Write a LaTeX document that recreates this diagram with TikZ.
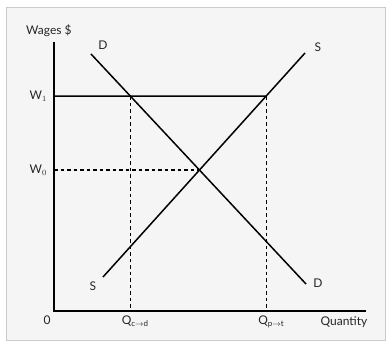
\documentclass[tikz,border=0pt]{standalone}
\usepackage{fontspec}
\setmainfont{Lato}
\usetikzlibrary{positioning,calc}

\begin{document}
\begin{tikzpicture}[x=1pt, y=-1pt, font=\fontsize{12}{14}\selectfont,
  axis/.style={line width=1.5pt},
  curve/.style={line width=1.5pt},
  guide/.style={line width=1.1pt, dash pattern=on 3.5pt off 3pt},
  lab/.style={inner sep=1pt, text=black!85}]
\useasboundingbox (0,0) rectangle (388,343);
\draw[black!20, fill=black!4] (6,7) rectangle (385,340);
% axes
\coordinate (O) at (54,311);
\coordinate (ytop) at (54,42);
\coordinate (xend) at (366,311);
\draw[axis] (ytop) -- (O) -- (xend);
% demand and supply
\coordinate (D1) at (91,54);
\coordinate (D2) at (306,284);
\coordinate (S1) at (103,277);
\coordinate (S2) at (305,53);
\draw[curve] (D1) -- (D2);
\draw[curve] (S1) -- (S2);
\coordinate (E) at (intersection of D1--D2 and S1--S2);
\coordinate (Wa) at (54,96);
\coordinate (Qd) at (intersection of D1--D2 and Wa--{$(Wa)+(300,0)$});
\coordinate (Qs) at (intersection of S1--S2 and Wa--{$(Wa)+(300,0)$});
\coordinate (W0) at (O |- E);
\coordinate (Qdx) at (Qd |- O);
\coordinate (Qsx) at (Qs |- O);
% wage lines
\draw[curve] (Wa) -- (Qs);
\draw[guide] (W0) -- (E);
\draw[guide] (Qd) -- (Qdx);
\draw[guide] (Qs) -- (Qsx);
% labels
\node[lab, anchor=south west] (wages) at (25,38) {Wages \$};
\node[lab, anchor=east] (w1) at ($(Wa)+(-6,0)$) {W$_1$};
\node[lab, anchor=east] (w0) at ($(W0)+(-6,0)$) {W$_0$};
\node[lab] (zero) at (47,320) {0};
\node[lab, anchor=north] (qcd) at ($(Qdx)+(5,4)$) {Q$_{\mathrm{c}\to\mathrm{d}}$};
\node[lab, anchor=north] (qpt) at ($(Qsx)+(5,4)$) {Q$_{\mathrm{p}\to\mathrm{t}}$};
\node[lab, anchor=north] (qty) at (344,315) {Quantity};
\node[lab] (dtop) at (103,45) {D};
\node[lab] (dbot) at (318,283) {D};
\node[lab] (stop) at (318,47) {S};
\node[lab] (sbot) at (93,286) {S};
\end{tikzpicture}
\end{document}
